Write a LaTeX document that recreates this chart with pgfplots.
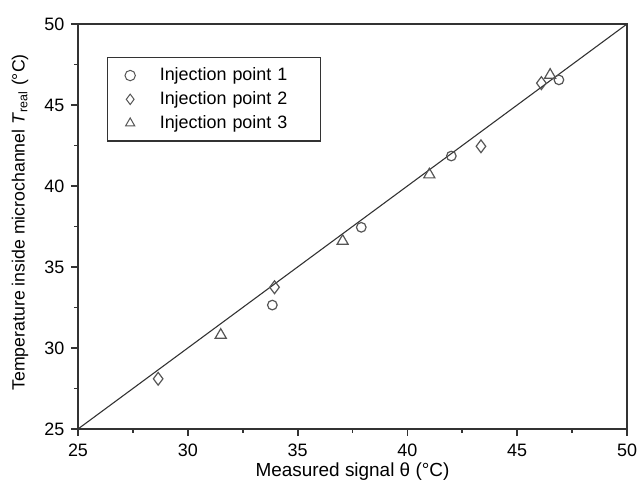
\documentclass[border=0pt]{standalone}
\usepackage{fontspec}
\setmainfont{Liberation Sans}
\usepackage{pgfplots}
\pgfplotsset{compat=1.18}
\definecolor{ax}{HTML}{333333}
\definecolor{mk}{HTML}{555555}
\begin{document}
\fontsize{9.5}{11}\selectfont
\begin{tikzpicture}
\useasboundingbox (-39bp,-30bp) rectangle (279.5bp,214.5bp);
\begin{axis}[
  scale only axis,
  width=274.5bp, height=202.5bp,
  xmin=25, xmax=50, ymin=25, ymax=50,
  xtick={25,30,...,50}, ytick={25,30,...,50},
  minor tick num=1,
  tick align=outside,
  xtick pos=bottom, ytick pos=left,
  major tick length=3.5bp, minor tick length=2bp,
  every tick/.style={ax, line width=0.9bp},
  axis line style={ax, line width=1bp},
  /pgf/number format/assume math mode=true,
  tick label style={font=\fontsize{9}{10}\selectfont},
  xticklabel style={yshift=-0.5bp},
  xlabel={Measured signal θ (°C)},
  ylabel={Temperature inside microchannel \textit{T}\textsubscript{real} (°C)},
  xlabel style={font=\fontsize{9.5}{11}\selectfont, at={(axis description cs:0.5,-0.106)}, anchor=center},
  ylabel style={font=\fontsize{8.9}{11}\selectfont, at={(axis description cs:-0.1056,0.51)}, anchor=center},
  legend style={at={(axis cs:26.32,47.96)}, anchor=north west, draw=ax, line width=0.6bp,
    font=\fontsize{9}{11}\selectfont, inner xsep=0bp, inner ysep=3bp, row sep=0bp,
    legend cell align=left, cells={anchor=west, text width=78.5bp}},
  legend image code/.code={%
    \path (-11bp,0) (12.5bp,0);
    \draw[#1, line width=0.5bp, mark size=2.6bp] plot coordinates {(0,0)};},
]
\addplot[only marks, mark=o, mark size=2.4bp, mk, line width=0.6bp] coordinates {
 (33.85,32.65) (37.9,37.45) (42.0,41.85) (46.9,46.55)};
\addlegendentry{Injection point 1}
\addplot[only marks, mark=diamond, mark size=3.2bp, mk, line width=0.6bp] coordinates {
 (28.65,28.1) (33.95,33.75) (43.35,42.45) (46.1,46.35)};
\addlegendentry{Injection point 2}
\addplot[only marks, mark=triangle, mark size=3.2bp, mk, line width=0.6bp] coordinates {
 (31.5,30.8) (37.05,36.6) (41.0,40.7) (46.5,46.85)};
\addlegendentry{Injection point 3}
\addplot[ax, line width=0.55bp, forget plot] coordinates {(25,25) (50,50)};
\end{axis}
\end{tikzpicture}
\end{document}
